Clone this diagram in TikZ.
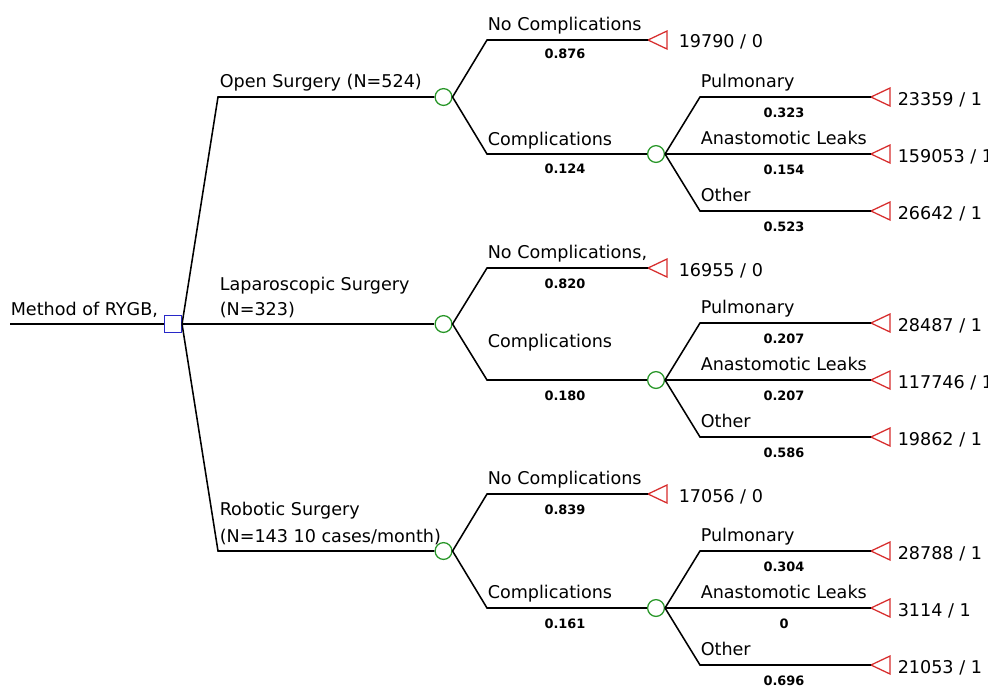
\documentclass[tikz,border=0pt]{standalone}
\usepackage{fontspec}
\setmainfont{DejaVu Sans}
\usepackage{tikz}
\newcommand{\labelSize}{\fontsize{12.5}{17}\selectfont}
\newcommand{\probSize}{\fontsize{9.2}{10}\selectfont\bfseries}
\definecolor{decBlue}{RGB}{40,40,200}
\definecolor{chGreen}{RGB}{40,150,40}
\definecolor{trRed}{RGB}{215,45,45}
% terminal triangle, tip at the named coordinate
\newcommand{\termTri}[2]{\coordinate (#1) at #2;
\draw[trRed,line width=0.9pt,line join=miter] (#1) -- ++(19,-9) -- ++(0,18) -- cycle;}

\begin{document}
\begin{tikzpicture}[x=0.025cm,y=-0.025cm,line width=1.1pt,
  lab/.style={anchor=base west,inner sep=0pt,font=\labelSize},
  val/.style={anchor=base west,inner sep=0pt,font=\labelSize},
  prob/.style={anchor=base,inner sep=0pt,font=\probSize},
  chance/.style={circle,draw=chGreen,line width=0.9pt,minimum size=0.42cm,inner sep=0pt},
  decision/.style={rectangle,draw=decBlue,line width=0.9pt,minimum size=0.42cm,inner sep=0pt}]
\useasboundingbox (0,0) rectangle (988,687);

% root and decision
\coordinate (root) at (10,324);
\node[decision] (dec) at (173,324) {};
\node[lab] (rootlab) at (10,315) {Method of RYGB,};
\draw (root) -- (dec.west);

\node[chance] (c1) at (443.5,97) {};
\node[chance] (c2) at (443.5,324) {};
\node[chance] (c3) at (443.5,551) {};
\coordinate (k1) at (218,97);
\coordinate (k3) at (218,551);
\draw (dec.east) -- (k1) -- (c1.west);
\draw (dec.east) -- (c2.west);
\draw (dec.east) -- (k3) -- (c3.west);
\node[lab] (open) at (219,87) {Open Surgery (N=524)};
\node[lab] (lap) at (219,290) {Laparoscopic Surgery};
\node[lab] (lapn) at (219,315) {(N=323)};
\node[lab] (rob) at (219,515) {Robotic Surgery};
\node[lab] (robn) at (219,542) {(N=143 10 cases/month)};

% open surgery
\coordinate (n1) at (487,40);
\coordinate (m1) at (487,154);
\termTri{t1}{(648,40)}
\node[chance] (s1) at (656,154) {};
\draw (c1.east) -- (n1) -- (t1);
\draw (c1.east) -- (m1) -- (s1.west);
\node[lab] at (487,30) {No Complications};
\node[prob] at (565,58) {0.876};
\node[val] (v1) at (678,47) {19790 / 0};
\node[lab] at (487,145) {Complications};
\node[prob] at (565,173) {0.124};
\coordinate (p1) at (700,97);
\coordinate (o1) at (700,211);
\termTri{t1p}{(871,97)}
\termTri{t1a}{(871,154)}
\termTri{t1o}{(871,211)}
\draw (s1.east) -- (p1) -- (t1p);
\draw (s1.east) -- (t1a);
\draw (s1.east) -- (o1) -- (t1o);
\node[lab] at (700,87) {Pulmonary};
\node[prob] at (784,117) {0.323};
\node[val] at (897,105) {23359 / 1};
\node[lab] at (700,144) {Anastomotic Leaks};
\node[prob] at (784,174) {0.154};
\node[val] at (897,162) {159053 / 1};
\node[lab] at (700,201) {Other};
\node[prob] at (784,231) {0.523};
\node[val] at (897,219) {26642 / 1};

% laparoscopic surgery
\coordinate (n2) at (487,268);
\coordinate (m2) at (487,380);
\termTri{t2}{(648,268)}
\node[chance] (s2) at (656,380) {};
\draw (c2.east) -- (n2) -- (t2);
\draw (c2.east) -- (m2) -- (s2.west);
\node[lab] at (487,258) {No Complications,};
\node[prob] at (565,288) {0.820};
\node[val] (v2) at (678,276) {16955 / 0};
\node[lab] at (487,347) {Complications};
\node[prob] at (565,400) {0.180};
\coordinate (p2) at (700,323);
\coordinate (o2) at (700,437);
\termTri{t2p}{(871,323)}
\termTri{t2a}{(871,380)}
\termTri{t2o}{(871,437)}
\draw (s2.east) -- (p2) -- (t2p);
\draw (s2.east) -- (t2a);
\draw (s2.east) -- (o2) -- (t2o);
\node[lab] at (700,313) {Pulmonary};
\node[prob] at (784,343) {0.207};
\node[val] at (897,331) {28487 / 1};
\node[lab] at (700,370) {Anastomotic Leaks};
\node[prob] at (784,400) {0.207};
\node[val] at (897,388) {117746 / 1};
\node[lab] at (700,427) {Other};
\node[prob] at (784,457) {0.586};
\node[val] at (897,445) {19862 / 1};

% robotic surgery
\coordinate (n3) at (487,494);
\coordinate (m3) at (487,608);
\termTri{t3}{(648,494)}
\node[chance] (s3) at (656,608) {};
\draw (c3.east) -- (n3) -- (t3);
\draw (c3.east) -- (m3) -- (s3.west);
\node[lab] at (487,484) {No Complications};
\node[prob] at (565,514) {0.839};
\node[val] (v3) at (678,502) {17056 / 0};
\node[lab] at (487,598) {Complications};
\node[prob] at (565,628) {0.161};
\coordinate (p3) at (700,551);
\coordinate (o3) at (700,665);
\termTri{t3p}{(871,551)}
\termTri{t3a}{(871,608)}
\termTri{t3o}{(871,665)}
\draw (s3.east) -- (p3) -- (t3p);
\draw (s3.east) -- (t3a);
\draw (s3.east) -- (o3) -- (t3o);
\node[lab] at (700,541) {Pulmonary};
\node[prob] at (784,571) {0.304};
\node[val] at (897,559) {28788 / 1};
\node[lab] at (700,598) {Anastomotic Leaks};
\node[prob] at (784,628) {0};
\node[val] at (897,616) {3114 / 1};
\node[lab] at (700,655) {Other};
\node[prob] at (784,685) {0.696};
\node[val] at (897,673) {21053 / 1};
\end{tikzpicture}
\end{document}
